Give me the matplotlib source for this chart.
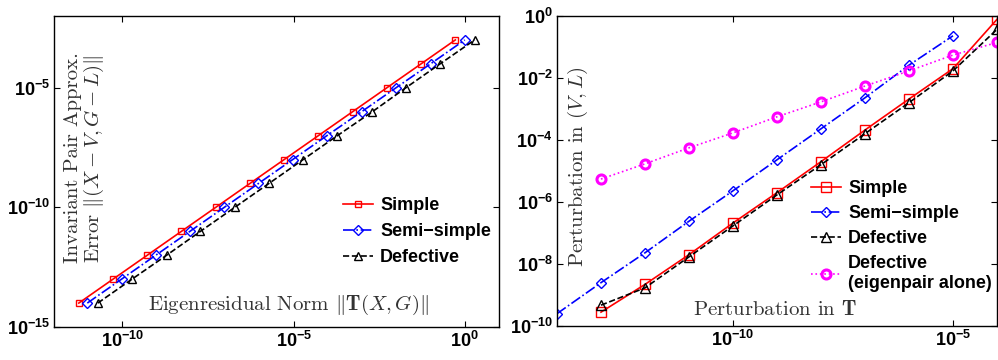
import math
import matplotlib
matplotlib.use("Agg")
import matplotlib.pyplot as plt
from matplotlib.ticker import FixedLocator, FuncFormatter

plt.rcParams['mathtext.fontset'] = 'custom'
plt.rcParams['mathtext.bf'] = 'Liberation Sans:bold'
plt.rcParams['mathtext.rm'] = 'Liberation Sans:bold'

# left panel: invariant pair error vs eigenresidual norm
simple_x = [5.3e-12, 5.3e-11, 5.3e-10, 5.3e-9, 5.3e-8, 5.3e-7, 5.3e-6, 5.3e-5, 5.3e-4, 5.3e-3, 5.3e-2, 0.53]
semi_x = [9.4e-12, 9.4e-11, 9.4e-10, 9.4e-9, 9.4e-8, 9.4e-7, 9.4e-6, 9.4e-5, 9.7e-4, 9.8e-3, 0.1, 1.0]
defect_x = [1.9e-11, 1.9e-10, 1.95e-9, 1.9e-8, 1.9e-7, 1.9e-6, 1.9e-5, 1.9e-4, 2.0e-3, 1.9e-2, 0.19, 1.95]
err_y = [1e-14, 1e-13, 1e-12, 1e-11, 1e-10, 1e-9, 1e-8, 1e-7, 1e-6, 1e-5, 1e-4, 1e-3]

# right panel: perturbation in (V,L) vs perturbation in T
pert_x = [1e-14, 1e-13, 1e-12, 1e-11, 1e-10, 1e-9, 1e-8, 1e-7, 1e-6, 1e-5, 1e-4]
semi_p = [2.5e-10, 2.5e-9, 2.3e-8, 2.4e-7, 2.3e-6, 2.3e-5, 2.3e-4, 2.3e-3, 2.6e-2, 0.23]
simple_p = [2.8e-10, 2.2e-9, 2.0e-8, 2.1e-7, 2.0e-6, 2.0e-5, 2.1e-4, 2.1e-3, 2.0e-2, 0.78]
defect_p = [4.7e-10, 1.7e-9, 1.7e-8, 1.7e-7, 1.7e-6, 1.6e-5, 1.6e-4, 1.6e-3, 1.7e-2, 0.37]
eigpair_p = [5.5e-6, 1.7e-5, 5.6e-5, 1.7e-4, 5.6e-4, 1.7e-3, 5.5e-3, 1.7e-2, 5.5e-2, 0.14]

fig = plt.figure(figsize=(9.98, 3.6), dpi=100)
ax1 = fig.add_axes([54/998, 33/360, 445/998, 311/360])
ax2 = fig.add_axes([557/998, 34/360, 440/998, 310/360])

fmt = FuncFormatter(lambda v, p: r'$\mathbf{10^{%d}}$' % round(math.log10(v)))

ax1.plot(simple_x, err_y, '-s', color='red', mfc='none', ms=5, lw=1.2, label='Simple')
ax1.plot(semi_x, err_y, '-.D', color='blue', mfc='none', ms=5.5, lw=1.2, label='Semi\u2212simple')
ax1.plot(defect_x, err_y, '--^', color='black', mfc='none', ms=6, lw=1.2, label='Defective')

ax2.plot(pert_x[1:], simple_p, '-s', color='red', mfc='none', ms=7, lw=1.2, label='Simple')
ax2.plot(pert_x[:-1], semi_p, '-.D', color='blue', mfc='none', ms=5.5, lw=1.2, label='Semi\u2212simple')
ax2.plot(pert_x[1:], defect_p, '--^', color='black', mfc='none', ms=7, lw=1.2, label='Defective')
ax2.plot(pert_x[1:], eigpair_p, ':o', color='magenta', mfc='none', ms=6.5, mew=2.2, lw=1.2,
         label='Defective\n(eigenpair alone)')

ax1.set_xscale('log'); ax1.set_yscale('log')
ax2.set_xscale('log'); ax2.set_yscale('log')
ax1.set_xlim(1e-12, 1e1); ax1.set_ylim(1e-15, 1e-2)
ax2.set_xlim(1e-14, 1e-4); ax2.set_ylim(1e-10, 1)

ax1.xaxis.set_major_locator(FixedLocator([1e-10, 1e-5, 1e0]))
ax1.yaxis.set_major_locator(FixedLocator([1e-15, 1e-10, 1e-5]))
ax2.xaxis.set_major_locator(FixedLocator([1e-10, 1e-5]))
ax2.yaxis.set_major_locator(FixedLocator([1e-10, 1e-8, 1e-6, 1e-4, 1e-2, 1e0]))

for ax in (ax1, ax2):
    ax.minorticks_off()
    ax.xaxis.set_major_formatter(fmt)
    ax.yaxis.set_major_formatter(fmt)
    ax.tick_params(direction='in', top=True, right=True, length=4, width=0.8, labelsize=13, pad=3)
    for s in ax.spines.values():
        s.set_linewidth(1.0)

lab_kw = dict(fontsize=15, family='cmr10', math_fontfamily='cm', color='#333333')
ax1.text(0.07, 0.206, 'Invariant Pair Approx.\nError $\\Vert(X-V,G-L)\\Vert$', transform=ax1.transAxes,
         rotation=90, ha='center', va='bottom', multialignment='left', linespacing=1.0, **lab_kw)
ax1.text(0.528, 0.071, 'Eigenresidual Norm $\\Vert\\mathbf{T}(X,G)\\Vert$', transform=ax1.transAxes,
         ha='center', va='center', **lab_kw)
ax2.text(0.048, 0.19, 'Perturbation in $(V,L)$', transform=ax2.transAxes, rotation=90,
         ha='center', va='bottom', **lab_kw)
ax2.text(0.495, 0.052, 'Perturbation in $\\mathbf{T}$', transform=ax2.transAxes,
         ha='center', va='center', **lab_kw)

leg_kw = dict(frameon=False, loc='upper left', borderpad=0, borderaxespad=0, handlelength=1.65,
              handletextpad=0.4, prop={'family': 'Liberation Sans', 'weight': 'bold', 'size': 13})
ax1.legend(bbox_to_anchor=(343/998, 1-197/360), bbox_transform=fig.transFigure, labelspacing=0.5, **leg_kw)
ax2.legend(bbox_to_anchor=(811/998, 1-180/360), bbox_transform=fig.transFigure, labelspacing=0.45, **leg_kw)

fig.savefig('out.png', dpi=100)
